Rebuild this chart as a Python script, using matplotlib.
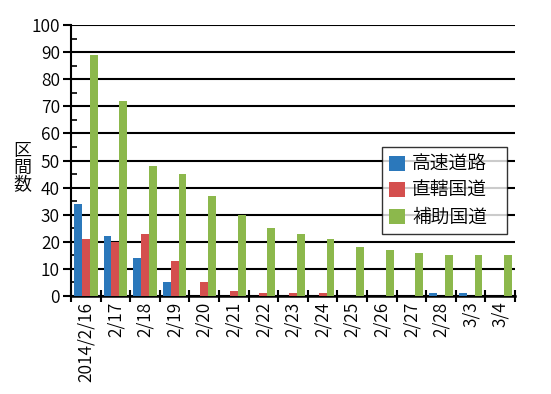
import matplotlib
matplotlib.use("Agg")
import matplotlib.pyplot as plt
from matplotlib.ticker import MultipleLocator, FixedLocator
import numpy as np

plt.rcParams['font.family'] = ['Noto Sans CJK JP', 'DejaVu Sans']
plt.rcParams['font.weight'] = 350

# Data
dates = ['2014/2/16', '2/17', '2/18', '2/19', '2/20', '2/21', '2/22', '2/23',
         '2/24', '2/25', '2/26', '2/27', '2/28', '3/3', '3/4']
expressway = [34, 22, 14, 5, 0, 0, 0, 0, 0, 0, 0, 0, 1, 1, 0]
direct_national = [21, 20, 23, 13, 5, 2, 1, 1, 1, 0, 0, 0, 0, 0, 0]
aux_national = [89, 72, 48, 45, 37, 30, 25, 23, 21, 18, 17, 16, 15, 15, 15]
series_names = ['高速道路', '直轄国道', '補助国道']
colors = ['#2b78bb', '#d44f4e', '#8cb84c']

fig = plt.figure(figsize=(5.51, 3.94), dpi=100)
ax = fig.add_axes([71/551, 1 - 296/394, (515 - 71)/551, (296 - 25)/394])

x = np.arange(len(dates))
w = 0.265
for i, (vals, name, c) in enumerate(zip([expressway, direct_national, aux_national], series_names, colors)):
    ax.bar(x + (i - 1) * w, vals, width=w, color=c, label=name, zorder=3)

ax.set_xlim(-0.5, len(dates) - 0.5)
ax.set_ylim(0, 100)

# y axis
ax.yaxis.set_major_locator(MultipleLocator(10))
ax.yaxis.set_minor_locator(MultipleLocator(5))
ax.tick_params(axis='y', which='major', direction='out', length=6, width=1.5, labelsize=12.5, pad=2)
ax.tick_params(axis='y', which='minor', direction='in', length=4, width=1.2)
ax.grid(axis='y', which='major', color='black', linewidth=1.5, zorder=1)

# x axis: ticks between categories, labels at centres
ax.set_xticks(x)
ax.set_xticklabels(dates, rotation=90, fontsize=12.5)
ax.xaxis.set_minor_locator(FixedLocator(np.arange(-0.5, len(dates), 1.0)))
ax.tick_params(axis='x', which='major', length=0, pad=4)
ax.tick_params(axis='x', which='minor', direction='inout', length=9, width=1.5)

for s in ['top', 'right']:
    ax.spines[s].set_visible(False)
ax.spines['left'].set_linewidth(1.5)
ax.spines['bottom'].set_linewidth(1.8)

fig.text(22/551, 1 - 168/394, '区\n間\n数', ha='center', va='center', fontsize=13, linespacing=0.95)

x0 = (382 - 71) / 444
y1 = (296 - 147) / 271
y0 = (296 - 233) / 271
leg = ax.legend(loc='upper left', bbox_to_anchor=(x0, y0, (507 - 382) / 444, y1 - y0),
                mode='expand', fontsize=13.5, frameon=True, fancybox=False, edgecolor='black',
                handlelength=0.85, handleheight=0.85, handletextpad=0.4,
                borderpad=0.35, labelspacing=0.3, borderaxespad=0)
leg.get_frame().set_linewidth(1.0)
leg.set_zorder(5)

fig.savefig('out.png', dpi=100)
